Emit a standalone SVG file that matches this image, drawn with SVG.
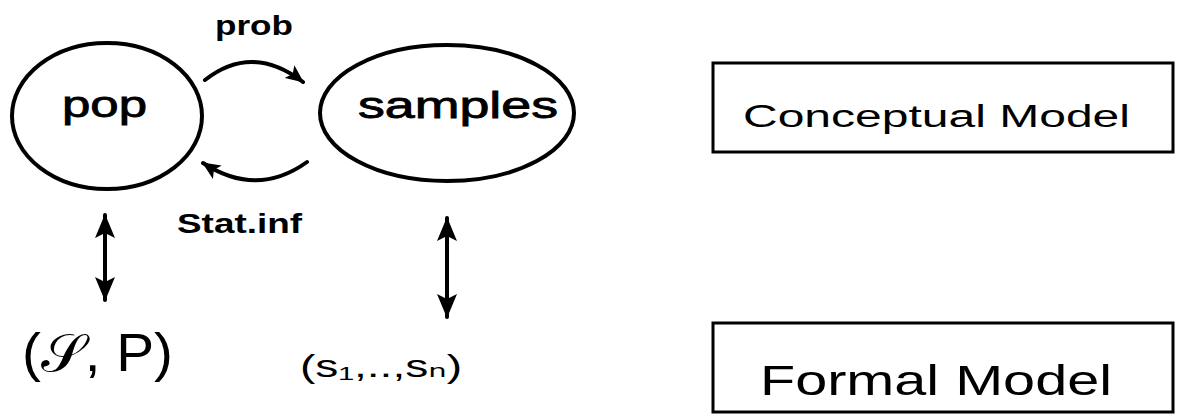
<svg xmlns="http://www.w3.org/2000/svg" width="1177" height="416" viewBox="0 0 1177 416">
<style>
.node{fill:none;stroke:#000;stroke-width:4}
.box{fill:none;stroke:#000;stroke-width:3}
.t{font-family:"Liberation Sans","DejaVu Sans",sans-serif;fill:#000}
.h{stroke:#000;stroke-width:0.8}
.c{fill:none;stroke:#000;stroke-width:4;stroke-linecap:round}
</style>
<defs>
<marker id="ah" viewBox="0 0 24 20" refX="23" refY="10" markerWidth="24" markerHeight="20" markerUnits="userSpaceOnUse" orient="auto-start-reverse">
<path d="M0,0 L24,10 L0,20 L5,10 z" fill="#000"/>
</marker>
<marker id="ahs" viewBox="0 0 18 16" refX="17" refY="8" markerWidth="18" markerHeight="16" markerUnits="userSpaceOnUse" orient="auto">
<path d="M0,0 L18,8 L0,16 L4,8 z" fill="#000"/>
</marker>
</defs>
<rect width="1177" height="416" fill="#fff"/>
<g id="pop">
<ellipse class="node" cx="107" cy="116" rx="95" ry="73"/>
<text class="t h" x="62" y="117" font-size="36" textLength="85" lengthAdjust="spacingAndGlyphs">pop</text>
</g>
<g id="samples">
<ellipse class="node" cx="447" cy="113" rx="127" ry="68"/>
<text class="t h" x="358" y="118" font-size="36" textLength="200" lengthAdjust="spacingAndGlyphs">samples</text>
</g>
<g id="conceptual">
<rect class="box" x="713" y="63" width="460" height="89"/>
<text class="t" x="743" y="127" font-size="31" textLength="387" lengthAdjust="spacingAndGlyphs">Conceptual Model</text>
</g>
<g id="formal">
<rect class="box" x="713" y="323" width="460" height="89"/>
<text class="t" x="760" y="395" font-size="43" textLength="352" lengthAdjust="spacingAndGlyphs">Formal Model</text>
</g>
<g id="pop-formal">
<text class="t" x="22" y="371" font-size="53" textLength="151" lengthAdjust="spacingAndGlyphs">(𝒮, P)</text>
</g>
<g id="samples-formal">
<text class="t" x="300" y="377" font-size="31" textLength="162" lengthAdjust="spacingAndGlyphs">(s₁,..,sₙ)</text>
</g>
<g id="connectors">
<path class="c" d="M205,80 Q252,43 303,82" marker-end="url(#ahs)"/>
<text class="t" x="215" y="35" font-size="28" font-weight="bold" textLength="78" lengthAdjust="spacingAndGlyphs">prob</text>
<path class="c" d="M307,162 Q257,198 203,163" marker-end="url(#ahs)"/>
<text class="t" x="177" y="233" font-size="28" font-weight="bold" textLength="125" lengthAdjust="spacingAndGlyphs">Stat.inf</text>
<line class="c" x1="105" y1="215" x2="105" y2="300" marker-start="url(#ah)" marker-end="url(#ah)"/>
<line class="c" x1="447" y1="218" x2="447" y2="317" marker-start="url(#ah)" marker-end="url(#ah)"/>
</g>
</svg>
